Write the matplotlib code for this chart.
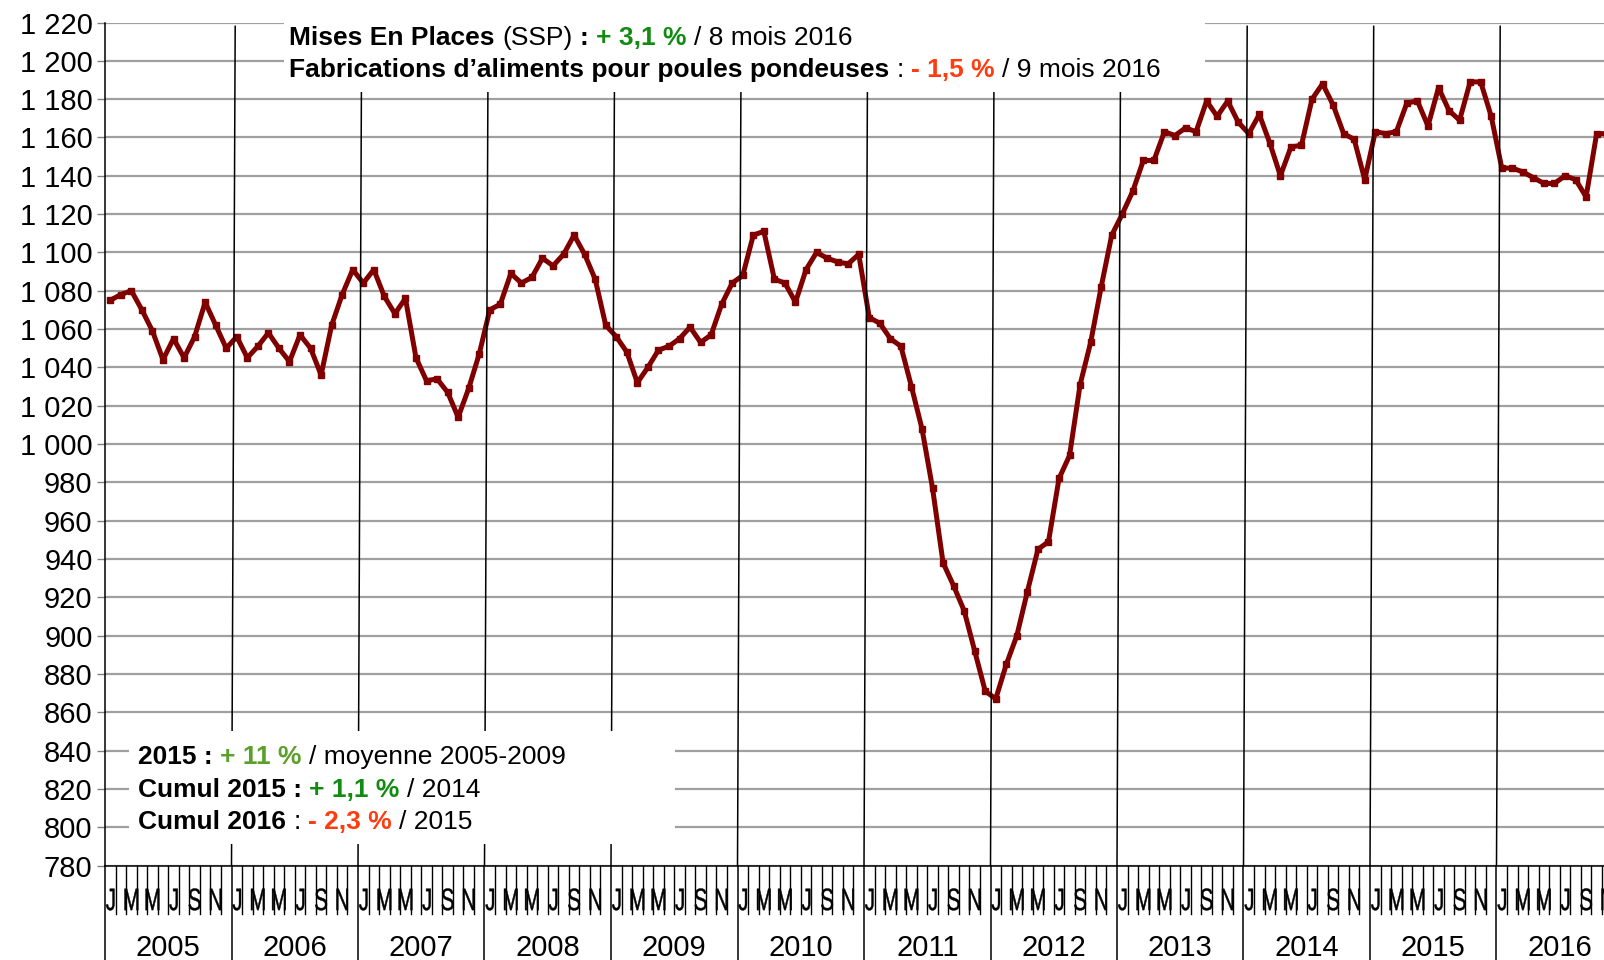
import matplotlib
matplotlib.use("Agg")
import matplotlib.pyplot as plt
from matplotlib.patches import Rectangle, PathPatch
from matplotlib.textpath import TextPath
from matplotlib.font_manager import FontProperties
from matplotlib.transforms import Affine2D, IdentityTransform

plt.rcParams['font.family'] = ['Liberation Sans', 'DejaVu Sans']

# monthly values, Jan 2005 -> Nov 2016
v2005 = [1075, 1078, 1080, 1070, 1059, 1044, 1055, 1045, 1056, 1074, 1062, 1050]
v2006 = [1056, 1045, 1051, 1058, 1050, 1043, 1057, 1050, 1036, 1062, 1078, 1091]
v2007 = [1084, 1091, 1077, 1068, 1076, 1045, 1033, 1034, 1027, 1014, 1029, 1047]
v2008 = [1070, 1073, 1089, 1084, 1087, 1097, 1093, 1099, 1109, 1099, 1086, 1062]
v2009 = [1056, 1048, 1032, 1040, 1049, 1051, 1055, 1061, 1053, 1057, 1073, 1084]
v2010 = [1088, 1109, 1111, 1086, 1084, 1074, 1091, 1100, 1097, 1095, 1094, 1099]
v2011 = [1066, 1063, 1055, 1051, 1030, 1008, 977, 938, 926, 913, 892, 871]
v2012 = [867, 885, 900, 923, 945, 949, 982, 994, 1031, 1053, 1082, 1109]
v2013 = [1120, 1132, 1148, 1148, 1163, 1161, 1165, 1163, 1179, 1171, 1179, 1168]
v2014 = [1162, 1172, 1157, 1140, 1155, 1156, 1180, 1188, 1177, 1162, 1159, 1138]
v2015 = [1163, 1162, 1163, 1178, 1179, 1166, 1186, 1174, 1169, 1189, 1189, 1171]
v2016 = [1144, 1144, 1142, 1139, 1136, 1136, 1140, 1138, 1129, 1162, 1162]

years = list(range(2005, 2017))
month_letters = ["J", "", "M", "", "M", "", "J", "", "S", "", "N", ""]
yticks = list(range(780, 1221, 20))

values = (v2005 + v2006 + v2007 + v2008 + v2009 + v2010 + v2011 + v2012
          + v2013 + v2014 + v2015 + v2016)
months = list(range(len(values)))

GREEN = "#118c11"
LIGHTGREEN = "#5aa02a"
RED = "#ff3b10"
GRID = "#a0a0a0"

W, H = 1604, 960
fig = plt.figure(figsize=(W / 100, H / 100), dpi=100)

# plot area in pixels (right side runs past the picture, as in the original)
left, right, top, bottom = 105, 1623, 22.5, 865.5
ax = fig.add_axes([left / W, 1 - bottom / H, (right - left) / W, (bottom - top) / H])

n_months = 12 * len(years)
ax.set_xlim(-0.5, n_months - 0.5)
ax.set_ylim(780, 1220)
ax.set_yticks(yticks)
ax.set_yticklabels([f"{v:,}".replace(",", " ") for v in yticks])
ax.set_xticks([])
ax.tick_params(axis="y", length=6, width=1, color="#808080", labelsize=21, pad=3)
ax.yaxis.grid(True, color=GRID, lw=1.6)
ax.set_axisbelow(True)
for s in ["top", "right"]:
    ax.spines[s].set_visible(False)
ax.spines["left"].set_linewidth(1.1)
ax.spines["bottom"].set_linewidth(1.1)

# data line
ax.plot(months, values, color="#800000", lw=3.6, marker="s", ms=4.8, zorder=3)

# year separators through the plot (slightly slanted, hand drawn look)
for k in range(1, len(years)):
    b = 12 * k - 0.5
    ax.plot([b, b + 0.35], [780, 1218], color="black", lw=1.1, zorder=4)

xt = ax.get_xaxis_transform()
# month ticks and year separators below the axis
for m in range(n_months + 1):
    b = m - 0.5
    if m % 12 == 0:
        ax.plot([b, b], [0, -0.2], transform=xt, clip_on=False, color="black", lw=1.1)
    else:
        ax.plot([b, b], [0, -0.057], transform=xt, clip_on=False, color="black", lw=1.0)

for k, yr in enumerate(years):
    ax.text(12 * k + 5.5, -0.098, str(yr), transform=xt, ha="center", va="center",
            fontsize=21, clip_on=False)

# narrow month letters
fp = FontProperties(family="Liberation Sans")
for m in range(n_months):
    s = month_letters[m % 12]
    if not s:
        continue
    tp = TextPath((0, 0), s, size=31, prop=fp)
    ext = tp.get_extents()
    cx = (ext.x0 + ext.x1) / 2
    px = ax.transData.transform((m, 780))[0]
    tr = Affine2D().translate(-cx, -31 * 0.716 / 2).scale(0.66, 1.0).translate(px, H - 899)
    fig.add_artist(PathPatch(tr.transform_path(tp), facecolor="black", edgecolor="black",
                             lw=0.3, transform=IdentityTransform(), zorder=6))

# white text boxes
fig.add_artist(Rectangle((284 / W, 1 - 92 / H), (1205 - 284) / W, 84 / H,
                         transform=fig.transFigure, facecolor="white", edgecolor="none", zorder=5))
fig.add_artist(Rectangle((129 / W, 1 - 844 / H), (675 - 129) / W, (844 - 731) / H,
                         transform=fig.transFigure, facecolor="white", edgecolor="none", zorder=5))

r = fig.canvas.get_renderer()
TS = 19


def space_w(weight):
    a = fig.text(0, 0, "x x", fontsize=TS, fontweight=weight)
    b = fig.text(0, 0, "xx", fontsize=TS, fontweight=weight)
    w = a.get_window_extent(r).width - b.get_window_extent(r).width
    a.remove()
    b.remove()
    return w


def rich_line(x, y, parts):
    for s, weight, color in parts:
        sw = space_w(weight)
        lead = len(s) - len(s.lstrip(" "))
        trail = len(s) - len(s.rstrip(" "))
        x += lead * sw
        t = fig.text(x / W, 1 - y / H, s.strip(" "), fontsize=TS, fontweight=weight,
                     color=color, ha="left", va="baseline", zorder=7)
        x = t.get_window_extent(r).x1 + trail * sw


rich_line(289, 45, [("Mises En Places", "bold", "black"), (" (SSP) ", "normal", "black"),
                    (": ", "bold", "black"), ("+ 3,1 %", "bold", GREEN),
                    (" / 8 mois 2016", "normal", "black")])
rich_line(289, 77, [("Fabrications d’aliments pour poules pondeuses", "bold", "black"),
                    (" : ", "normal", "black"), ("- 1,5 %", "bold", RED),
                    (" / 9 mois 2016", "normal", "black")])
rich_line(138, 764, [("2015 : ", "bold", "black"), ("+ 11 %", "bold", LIGHTGREEN),
                     (" / moyenne 2005-2009", "normal", "black")])
rich_line(138, 797, [("Cumul 2015 : ", "bold", "black"), ("+ 1,1 %", "bold", GREEN),
                     (" / 2014", "normal", "black")])
rich_line(138, 829, [("Cumul 2016", "bold", "black"), (" : ", "normal", "black"),
                     ("- 2,3 %", "bold", RED), (" / 2015", "normal", "black")])

fig.savefig("out.png", dpi=100)
